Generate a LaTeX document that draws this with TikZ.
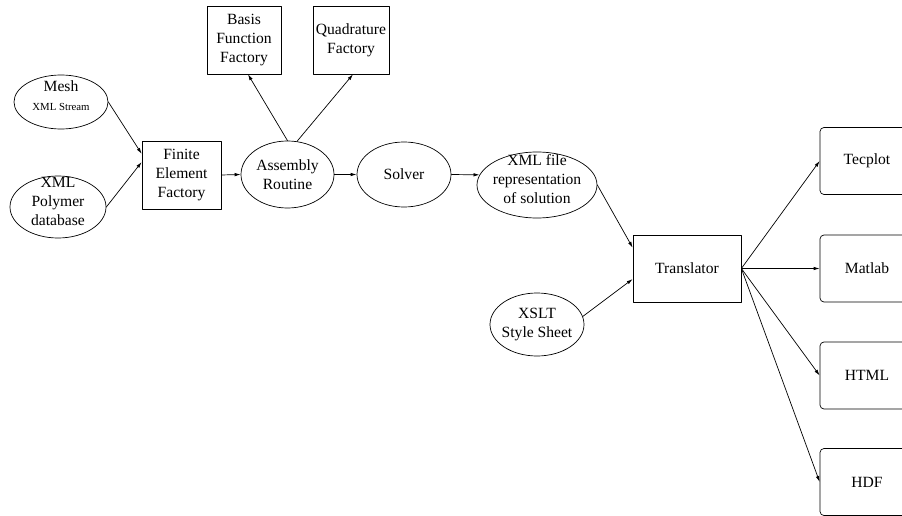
\documentclass[tikz,border=0pt]{standalone}
\usepackage{fontspec}
\setmainfont{Liberation Serif}
\usetikzlibrary{arrows.meta,shapes.geometric}
\newcommand{\sink}{\rule[-12pt]{0pt}{12pt}}

\begin{document}
\begin{tikzpicture}[line cap=round,line join=round,>={Latex[length=6pt,width=3.5pt]}
  ,x=1pt,y=-1pt,line width=0.7pt
  ,every node/.style={font=\fontsize{15.6}{19}\selectfont,align=center}
  ,oval/.style={draw,ellipse,inner sep=-10pt}
  ,block/.style={draw,rectangle,inner sep=0pt}
  ,outbox/.style={draw,rectangle,rounded corners=4pt,inner sep=0pt
    ,minimum width=94pt,minimum height=67pt}]
  \useasboundingbox (0,0) rectangle (902,516);
  \clip (0,0) rectangle (902,516);
  \node[oval,minimum width=94pt,minimum height=54pt] (mesh) at (61,102)
  {Mesh\\{\fontsize{10.8}{12}\selectfont XML Stream}\sink};
  \node[oval,minimum width=96pt,minimum height=62pt] (poly) at (58,207)
  {XML\\Polymer\\database\sink};
  \node[block,minimum width=79pt,minimum height=68pt] (fef) at (181.5,175)
  {Finite\\Element\\Factory};
  \node[oval,minimum width=93pt,minimum height=67pt] (asm) at (287.5,174.5)
  {Assembly\\Routine};
  \node[oval,minimum width=94pt,minimum height=65pt] (solver) at (404,174.5)
  {Solver};
  \node[block,minimum width=74pt,minimum height=68pt] (basis) at (244,40)
  {Basis\\Function\\Factory};
  \node[block,minimum width=76pt,minimum height=68pt] (quad) at (351,40)
  {Quadrature\\Factory};
  \node[oval,minimum width=120pt,minimum height=66pt] (xmlf) at (537,185)
  {XML file\\representation\\of solution\sink};
  \node[block,minimum width=108pt,minimum height=67pt] (trans) at (687,268.5)
  {Translator};
  \node[oval,minimum width=94pt,minimum height=63pt] (xslt) at (537,324.5)
  {XSLT\\Style Sheet};
  \draw[->] (mesh.east) -- (fef.152);
  \draw[->] (poly.east) -- (fef.162);
  \draw[->] (fef.east) -- (asm.west);
  \draw[->] (asm.east) -- (solver.west);
  \draw[->] (solver.east) -- (xmlf.170);
  \draw[->] (asm.90) -- ([xshift=4pt]basis.south);
  \draw[->] (asm.74) -- ([xshift=2pt]quad.south);
  \draw[->] (xmlf.east) -- (trans.159);
  \draw[->] (xslt.10) -- (trans.191);
  \foreach \name/\txt/\y in {tec/Tecplot/161,mat/Matlab/268.5,html/HTML/375.5,hdf/HDF/482}
  {
    \node[outbox] (\name) at (867,\y) {\txt};
    \draw[->] (trans.east) -- (\name.west);
  }
\end{tikzpicture}
\end{document}
